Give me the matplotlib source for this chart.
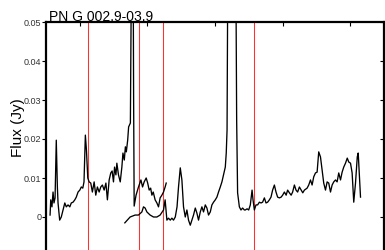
import matplotlib.pyplot as plt
import numpy as np

plt.rcParams['font.family'] = ['Liberation Sans', 'DejaVu Sans']

# short-wavelength part (incl. the strong line near 13.9)
wave_a = [7.80, 7.85, 7.94, 8.02, 8.09, 8.17, 8.26, 8.34, 8.39, 8.51, 8.63, 8.76,
          8.89, 9.00, 9.13, 9.26, 9.37, 9.50, 9.63, 9.74, 9.87, 10.00, 10.11, 10.22,
          10.31, 10.41, 10.49, 10.59, 10.69, 10.81, 10.93, 11.06, 11.18, 11.30, 11.43,
          11.55, 11.67, 11.80, 11.93, 12.04, 12.17, 12.29, 12.39, 12.49, 12.57, 12.67,
          12.74, 12.86, 12.99, 13.11, 13.19, 13.29, 13.37, 13.44, 13.54, 13.61, 13.74,
          13.81, 13.87, 13.92, 13.98, 14.02, 14.16, 14.34, 14.52, 14.64, 14.76, 14.91,
          15.02, 15.13, 15.24, 15.33, 15.43, 15.57, 15.70, 15.82, 15.94, 16.07, 16.19,
          16.31, 16.39]
flux_a = [0.0005, 0.0044, 0.0026, 0.0064, 0.0036, 0.0049, 0.0197, 0.0077, 0.0036,
          -0.0008, 0.0000, 0.0018, 0.0036, 0.0026, 0.0031, 0.0026, 0.0036, 0.0038,
          0.0044, 0.0051, 0.0064, 0.0069, 0.0077, 0.0074, 0.0090, 0.0210, 0.0172,
          0.0100, 0.0090, 0.0087, 0.0064, 0.0090, 0.0056, 0.0077, 0.0064, 0.0077,
          0.0082, 0.0069, 0.0087, 0.0044, 0.0095, 0.0113, 0.0118, 0.0090, 0.0128,
          0.0108, 0.0138, 0.0108, 0.0090, 0.0128, 0.0164, 0.0146, 0.0180, 0.0167,
          0.0197, 0.0231, 0.0241, 0.0600, 0.0900, 0.0900, 0.0300, 0.0028, 0.0056,
          0.0077, 0.0095, 0.0077, 0.0090, 0.0100, 0.0087, 0.0069, 0.0074, 0.0056,
          0.0064, 0.0044, 0.0036, 0.0026, 0.0049, 0.0056, 0.0064, 0.0077, 0.0087]

# long-wavelength part
wave_b = [13.33, 13.72, 14.09, 14.34, 14.59, 14.71, 14.83, 14.96, 15.20, 15.45,
          15.70, 15.94, 16.19, 16.31, 16.44, 16.56, 16.69, 16.81, 16.93, 17.06,
          17.19, 17.30, 17.43, 17.55, 17.67, 17.80, 17.92, 18.04, 18.17, 18.29,
          18.41, 18.54, 18.66, 18.78, 18.91, 19.03, 19.15, 19.28, 19.40, 19.52,
          19.65, 19.77, 19.89, 20.02, 20.14, 20.26, 20.39, 20.51, 20.63, 20.76,
          20.83, 20.89, 20.94, 21.06, 21.28, 21.50, 21.60, 21.67, 21.80, 21.92,
          22.04, 22.17, 22.24, 22.37, 22.49, 22.61, 22.74, 22.81, 22.91, 23.03,
          23.15, 23.28, 23.40, 23.52, 23.65, 23.77, 23.89, 24.02, 24.14, 24.26,
          24.39, 24.51, 24.63, 24.76, 24.89, 25.00, 25.13, 25.26, 25.37, 25.50,
          25.63, 25.74, 25.87, 25.99, 26.11, 26.24, 26.37, 26.49, 26.61, 26.81,
          26.93, 27.06, 27.18, 27.30, 27.43, 27.55, 27.67, 27.80, 27.92, 28.04,
          28.17, 28.29, 28.41, 28.54, 28.66, 28.78, 28.91, 29.03, 29.15, 29.28,
          29.40, 29.52, 29.65, 29.78, 29.89, 30.02, 30.14, 30.26, 30.39, 30.52,
          30.59, 30.69, 30.76]
flux_b = [-0.0015, 0.0000, 0.0005, 0.0005, 0.0013, 0.0026, 0.0023, 0.0013, 0.0005,
          0.0000, 0.0000, 0.0005, 0.0018, 0.0044, -0.0008, -0.0003, -0.0008, -0.0003,
          -0.0008, 0.0000, 0.0026, 0.0077, 0.0126, 0.0095, 0.0026, 0.0000, 0.0018,
          -0.0008, -0.0021, -0.0008, 0.0005, 0.0023, 0.0010, -0.0008, 0.0013, 0.0026,
          0.0013, 0.0031, 0.0023, 0.0005, 0.0013, 0.0031, 0.0038, 0.0044, 0.0051,
          0.0064, 0.0077, 0.0090, 0.0108, 0.0128, 0.0164, 0.0223, 0.0600, 0.0950,
          0.1200, 0.0900, 0.0249, 0.0062, 0.0026, 0.0018, 0.0023, 0.0018, 0.0018,
          0.0021, 0.0018, 0.0031, 0.0069, 0.0044, 0.0018, 0.0031, 0.0031, 0.0038,
          0.0036, 0.0038, 0.0049, 0.0036, 0.0038, 0.0044, 0.0051, 0.0069, 0.0082,
          0.0064, 0.0051, 0.0049, 0.0051, 0.0056, 0.0064, 0.0056, 0.0069, 0.0062,
          0.0056, 0.0064, 0.0082, 0.0069, 0.0064, 0.0077, 0.0069, 0.0062, 0.0069,
          0.0074, 0.0082, 0.0095, 0.0082, 0.0103, 0.0113, 0.0115, 0.0167, 0.0154,
          0.0121, 0.0087, 0.0069, 0.0090, 0.0087, 0.0064, 0.0082, 0.0090, 0.0095,
          0.0090, 0.0113, 0.0095, 0.0115, 0.0128, 0.0138, 0.0151, 0.0141, 0.0138,
          0.0113, 0.0038, 0.0087, 0.0154, 0.0164, 0.0095, 0.0051]

line_marks = [10.61, 14.39, 16.17, 22.91]
yticks = [0, 0.01, 0.02, 0.03, 0.04, 0.05]
ytick_labels = ['0', '0.01', '0.02', '0.03', '0.04', '0.05']
xticks = [10, 15, 20, 25, 30]

fig = plt.figure(figsize=(3.85, 2.5), dpi=100)
ax = fig.add_axes([0.1195, -0.024, 0.878, 0.936])

for w in line_marks:
    ax.axvline(w, color='#ff3030', lw=0.75, zorder=1)

ax.plot(wave_a, flux_a, color='black', lw=0.95, zorder=2)
ax.plot(wave_b, flux_b, color='black', lw=0.95, zorder=2)

ax.set_xlim(7.5, 32.5)
ax.set_ylim(-0.01, 0.05)
ax.set_yticks(yticks)
ax.set_yticklabels(ytick_labels)
ax.set_xticks(xticks)

ax.tick_params(axis='y', left=True, right=True, direction='out',
               length=3, width=0.8, labelsize=6.5, labelcolor='#333333', pad=0.5)
ax.tick_params(axis='x', top=True, bottom=True, direction='in', length=3,
               width=0.8, labelbottom=False)
# right-hand ticks point inwards
for t in ax.yaxis.get_major_ticks():
    t.tick2line.set_marker(0)

for side in ['left', 'top', 'right', 'bottom']:
    ax.spines[side].set_linewidth(1.6)

ax.set_ylabel('Flux (Jy)', fontsize=11)
ax.yaxis.set_label_coords(-0.062, 0.547)

fig.text(49 / 385, 1 - 21 / 250, 'PN G 002.9-03.9', fontsize=10, va='baseline', ha='left')

fig.savefig('out.png', dpi=100)
